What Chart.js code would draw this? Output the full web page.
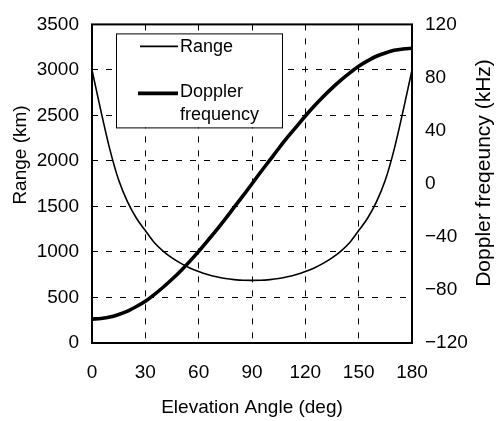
<!DOCTYPE html>
<html><head><meta charset="utf-8">
<script src="https://cdn.jsdelivr.net/npm/chart.js@4/dist/chart.umd.min.js"></script>
<style>html,body{margin:0;padding:0;background:#fff}#wrap{width:500px;height:421px}</style>
</head><body><div id="wrap"><canvas id="c" width="500" height="421"></canvas></div>
<script>
// ---- data ----
const angles = [0,5,10,15,20,25,30,35,40,45,50,55,60,65,70,75,80,85,90,95,100,105,110,115,120,125,130,135,140,145,150,155,160,165,170,175,180];
const rangeKm = [3000,2550,2130,1790,1550,1370,1235,1105,1010,935,875,825,785,752,727,708,696,689,688,689,696,708,727,752,785,825,875,935,1010,1105,1235,1370,1550,1790,2130,2550,3000];
const dopplerKHz = [-102,-101.5,-100.5,-98.5,-96,-92.5,-88.5,-83.5,-78,-72,-65.5,-58.5,-51,-43,-35,-26.5,-17.7,-9,0,9,17.7,26.5,35,43,51,58.5,65.5,72,78,83.5,88.5,92.5,96,98.5,100.5,101.5,102];
const xTicks = [0,30,60,90,120,150,180];
const rangeTicks = [0,500,1000,1500,2000,2500,3000,3500];
const dopplerTicks = [-120,-80,-40,0,40,80,120];
const seriesLabels = ['Range','Doppler frequency'];
const xTitle = 'Elevation Angle (deg)';
const yTitle = 'Range (km)';
const y2Title = 'Doppler freqeuncy (kHz)';

const FONT = 'Liberation Sans, Arial, Helvetica, sans-serif';

const deco = {
  id: 'deco',
  afterDatasetsDraw(chart) {
    const {ctx, chartArea: a} = chart;
    ctx.save();
    // plot frame
    ctx.strokeStyle = '#000';
    ctx.lineWidth = 2;
    ctx.setLineDash([]);
    ctx.strokeRect(a.left, a.top, a.right - a.left, a.bottom - a.top);
    // legend box
    const lx = a.left + 24, ly = a.top + 9, lw = 166, lh = 94;
    ctx.fillStyle = '#fff';
    ctx.fillRect(lx, ly, lw, lh);
    ctx.lineWidth = 1;
    ctx.strokeRect(lx + 0.5, ly + 0.5, lw, lh);
    const ds = chart.data.datasets;
    ctx.font = '18px ' + FONT;
    ctx.fillStyle = '#000';
    ctx.textAlign = 'left';
    ctx.textBaseline = 'middle';
    // entry 1
    ctx.lineWidth = ds[0].borderWidth;
    ctx.beginPath(); ctx.moveTo(lx + 24, ly + 13); ctx.lineTo(lx + 62, ly + 13); ctx.stroke();
    ctx.fillText(ds[0].label, lx + 64, ly + 14);
    // entry 2
    ctx.lineWidth = ds[1].borderWidth;
    ctx.beginPath(); ctx.moveTo(lx + 22, ly + 60); ctx.lineTo(lx + 62, ly + 60); ctx.stroke();
    const parts = ds[1].label.split(' ');
    ctx.fillText(parts[0], lx + 64, ly + 59);
    ctx.fillText(parts.slice(1).join(' '), lx + 64, ly + 82);
    // rotated axis titles
    ctx.textAlign = 'center';
    ctx.save();
    ctx.translate(21, 155);
    ctx.rotate(-Math.PI / 2);
    ctx.font = '19px ' + FONT;
    ctx.fillText(yTitle, 0, 0);
    ctx.restore();
    ctx.save();
    ctx.translate(484, 173);
    ctx.rotate(-Math.PI / 2);
    ctx.font = '21px ' + FONT;
    ctx.fillText(y2Title, 0, 0);
    ctx.restore();
    ctx.restore();
  }
};

const gridStyle = {color: '#000', lineWidth: 1, drawTicks: false};

new Chart(document.getElementById('c'), {
  type: 'line',
  data: {
    datasets: [
      {label: seriesLabels[0], data: angles.map((a, i) => ({x: a, y: rangeKm[i]})), yAxisID: 'y',
       borderColor: '#000', borderWidth: 1.6, pointRadius: 0, cubicInterpolationMode: 'monotone', fill: false},
      {label: seriesLabels[1], data: angles.map((a, i) => ({x: a, y: dopplerKHz[i]})), yAxisID: 'y2',
       borderColor: '#000', borderWidth: 3.6, pointRadius: 0, cubicInterpolationMode: 'monotone', fill: false}
    ]
  },
  options: {
    responsive: false,
    animation: false,
    devicePixelRatio: 1,
    layout: {padding: {top: 13, left: 0, right: 0, bottom: 0}},
    plugins: {legend: {display: false}, tooltip: {enabled: false}},
    scales: {
      x: {
        type: 'linear', min: 0, max: 180,
        afterBuildTicks: s => { s.ticks = xTicks.map(v => ({value: v})); },
        afterFit: s => { s.height = 78; },
        grid: {...gridStyle},
        border: {display: false, dash: [6, 8]},
        ticks: {color: '#000', font: {family: FONT, size: 19}, padding: 18, maxRotation: 0},
        title: {display: true, text: xTitle, color: '#000', font: {family: FONT, size: 19}, padding: {top: 0, bottom: 2}}
      },
      y: {
        type: 'linear', position: 'left', min: 0, max: 3500,
        afterBuildTicks: s => { s.ticks = rangeTicks.map(v => ({value: v})); },
        afterFit: s => { s.width = 92; },
        grid: {...gridStyle},
        border: {display: false, dash: [6, 8]},
        ticks: {color: '#000', font: {family: FONT, size: 19}, padding: 13, callback: v => String(v)}
      },
      y2: {
        type: 'linear', position: 'right', min: -120, max: 120,
        afterBuildTicks: s => { s.ticks = dopplerTicks.map(v => ({value: v})); },
        afterFit: s => { s.width = 88; },
        grid: {display: false, drawTicks: false},
        border: {display: false},
        ticks: {color: '#000', font: {family: FONT, size: 19}, padding: 13,
                callback: v => v < 0 ? '\u2212' + Math.abs(v) : String(v)}
      }
    }
  },
  plugins: [deco]
});
</script>
</body></html>
